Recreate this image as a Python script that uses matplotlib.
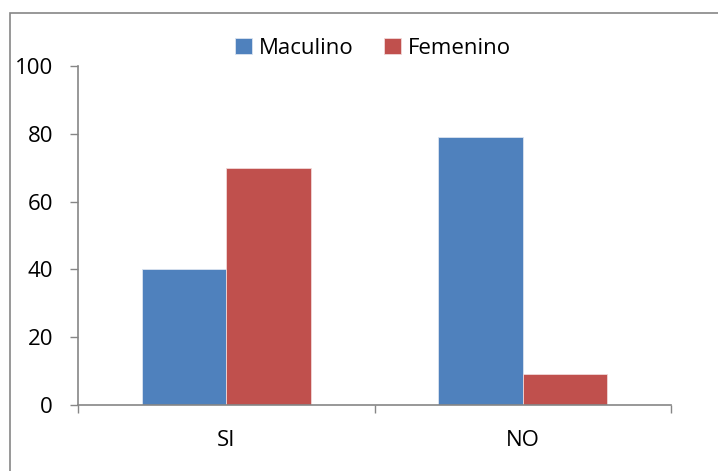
import numpy as np
import matplotlib.pyplot as plt
from matplotlib.patches import Rectangle

# datos
categorias = ["SI", "NO"]
masculino = [40, 79]
femenino = [70, 9]
etiquetas = ["Maculino", "Femenino"]

plt.rcParams['font.family'] = ['Open Sans', 'DejaVu Sans']

fig = plt.figure(figsize=(7.18, 4.71), dpi=100)
ax = fig.add_axes([78 / 718, 1 - 405 / 471, 593 / 718, 339 / 471])

x = np.arange(len(categorias))
w = 1 / 3.5
ax.bar(x - w / 2, masculino, w, color="#4F81BD", edgecolor="#dbe4f0", linewidth=0.6, label=etiquetas[0])
ax.bar(x + w / 2, femenino, w, color="#C0504D", edgecolor="#f0d8d8", linewidth=0.6, label=etiquetas[1])

ax.set_xlim(-0.5, len(categorias) - 0.5)
ax.set_ylim(0, 100)
ax.set_yticks(np.arange(0, 101, 20))
ax.set_xticks(x)
ax.set_xticklabels(categorias)
ax.set_xticks(np.arange(-0.5, len(categorias), 1), minor=True)
ax.tick_params(axis="x", which="major", length=0, pad=18, labelsize=16)
ax.tick_params(axis="x", which="minor", length=6, color="#868686", width=1, direction="out")
ax.tick_params(axis="y", length=6, color="#868686", width=1, pad=12, labelsize=16)

for s in ["top", "right"]:
    ax.spines[s].set_visible(False)
for s in ["left", "bottom"]:
    ax.spines[s].set_color("#868686")
    ax.spines[s].set_linewidth(1.2)

ax.legend(loc="center", bbox_to_anchor=(373 / 718, 1 - 48 / 471), bbox_transform=fig.transFigure,
          ncol=2, frameon=False, fontsize=16, handlelength=0.75, handleheight=0.75,
          handletextpad=0.3, columnspacing=1.4)

# marco del grafico
fig.patches.append(Rectangle((10 / 718, -0.01), 1.0, 1 - 13 / 471 + 0.01, transform=fig.transFigure,
                             fill=False, edgecolor="#868686", linewidth=1.2))

fig.savefig("out.png", dpi=100)
